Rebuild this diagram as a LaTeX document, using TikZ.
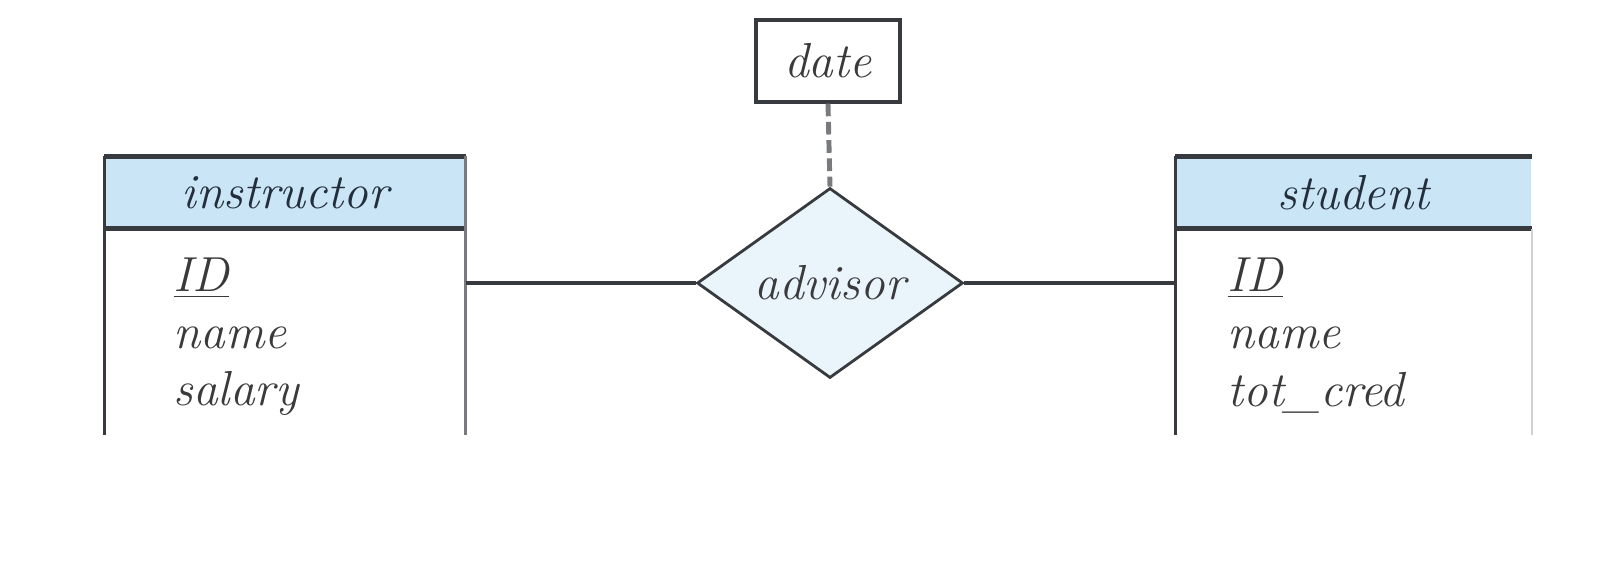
\documentclass[tikz,border=0pt]{standalone}
\usepackage{xcolor}
\usepackage{tikz}
\usetikzlibrary{shapes.geometric,positioning,calc}
\definecolor{hdrfill}{RGB}{202,229,245}
\definecolor{relfill}{RGB}{233,244,251}
\definecolor{edge}{RGB}{55,58,62}
\definecolor{sideg}{RGB}{120,122,125}
\definecolor{hdrtext}{RGB}{34,46,60}
\definecolor{attrtext}{RGB}{58,58,60}
\begin{document}
\begin{tikzpicture}[font=\fontsize{14}{17}\selectfont\itshape,
  hdr/.style={fill=hdrfill,text=hdrtext,minimum height=0.71cm,inner sep=0pt},
  body/.style={minimum height=2.05cm,inner sep=0pt},
  attr/.style={text=attrtext,anchor=west,inner sep=0pt},
  rel/.style={diamond,draw=edge,line width=0.8pt,fill=relfill,text=attrtext,minimum width=2.66cm,minimum height=1.90cm,inner sep=0pt},
  rattr/.style={draw=edge,line width=0.9pt,text=attrtext,minimum width=1.44cm,minimum height=0.82cm,inner sep=0pt},
  conn/.style={draw=edge,line width=0.9pt},
  rule/.style={draw=edge,line width=1.4pt}]
  \useasboundingbox (0,0) rectangle (16.24,-5.62);
  % instructor
  \node[hdr,minimum width=3.60cm] (instr) at (2.85,-1.925) {instructor};
  \node[body,minimum width=3.60cm,below=0pt of instr] (ibody) {};
  \draw[rule] (instr.north west) -- (instr.north east);
  \draw[rule] (instr.south west) -- (instr.south east);
  \draw[edge,line width=0.9pt] (instr.north west) -- (ibody.south west);
  \draw[sideg,line width=1pt] (instr.north east) -- (ibody.south east);
  \node[attr] (iid) at (1.73,-2.78) {\underline{ID}};
  \node[attr] (iname) at (1.73,-3.38) {name};
  \node[attr] (isal) at (1.73,-3.93) {salary};
  % student
  \node[hdr,minimum width=3.55cm] (stud) at (13.535,-1.925) {student};
  \node[body,minimum width=3.55cm,below=0pt of stud] (sbody) {};
  \draw[rule] (stud.north west) -- (stud.north east);
  \draw[rule] (stud.south west) -- (stud.south east);
  \draw[edge,line width=0.9pt] (stud.north west) -- (sbody.south west);
  \draw[black!18,line width=0.6pt] (sbody.north east) -- (sbody.south east);
  \node[attr] (sid) at (12.27,-2.78) {\underline{ID}};
  \node[attr] (sname) at (12.27,-3.38) {name};
  \node[attr] (scred) at (12.27,-3.93) {tot\_cred};
  % relationship
  \node[rel] (adv) at (8.30,-2.83) {advisor};
  \node[rattr] (date) at (8.28,-0.61) {date};
  \coordinate (ie) at (ibody.east |- adv.west);
  \coordinate (se) at (sbody.west |- adv.east);
  \draw[conn] (ie) -- (adv.west);
  \draw[conn] (adv.east) -- (se);
  \draw[sideg,line width=1.4pt,dash pattern=on 3.6pt off 1.6pt] (date.south) -- (adv.north);
\end{tikzpicture}
\end{document}
